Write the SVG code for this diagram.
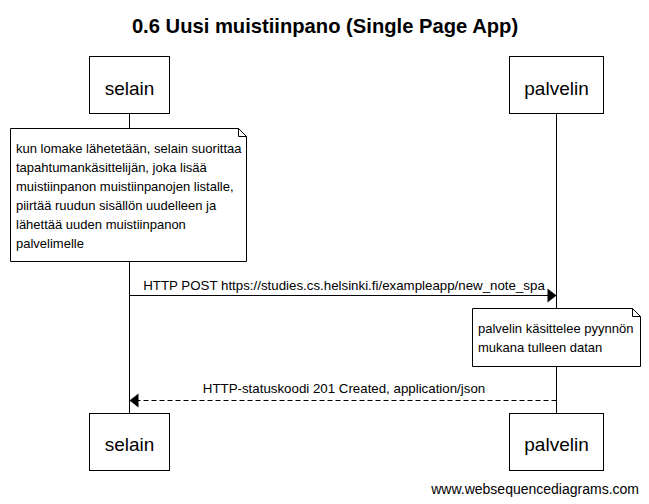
<svg xmlns="http://www.w3.org/2000/svg" width="649" height="504" viewBox="0 0 649 504">
<style>
  text { font-family: "Liberation Sans", Arial, sans-serif; fill: #000; }
  .title { font-size: 20.2px; font-weight: bold; text-anchor: middle; }
  .actor rect { fill: #fff; stroke: #000; stroke-width: 1; }
  .actor text { font-size: 19px; text-anchor: middle; }
  .note path { fill: #fff; stroke: #000; stroke-width: 1; }
  .note text { font-size: 13px; }
  .life { stroke: #000; stroke-width: 1; fill: none; }
  .msg { stroke: #000; stroke-width: 1; fill: none; }
  .dashed { stroke-dasharray: 5,3; }
  .lbl { font-size: 13.3px; text-anchor: middle; }
  .head { fill: #000; stroke: none; }
  .wm { font-size: 14px; text-anchor: end; }
</style>
<rect x="0" y="0" width="649" height="504" fill="#fff"/>
<text class="title" x="325" y="33">0.6 Uusi muistiinpano (Single Page App)</text>
<g id="lifelines">
  <line class="life" x1="129.5" y1="113.5" x2="129.5" y2="413.5"/>
  <line class="life" x1="556.5" y1="113.5" x2="556.5" y2="413.5"/>
</g>
<g id="note-selain" class="note">
  <path d="M10.5,128.5 H238.5 L246.5,136.5 V261.5 H10.5 Z M238.5,128.5 V136.5 H246.5"/>
  <text x="16" y="153">kun lomake lähetetään, selain suorittaa</text>
  <text x="16" y="172">tapahtumankäsittelijän, joka lisää</text>
  <text x="16" y="191">muistiinpanon muistiinpanojen listalle,</text>
  <text x="16" y="210">piirtää ruudun sisällön uudelleen ja</text>
  <text x="16" y="229">lähettää uuden muistiinpanon</text>
  <text x="16" y="248">palvelimelle</text>
</g>
<g id="note-palvelin" class="note">
  <path d="M472.5,308.5 H632.5 L640.5,316.5 V366.5 H472.5 Z M632.5,308.5 V316.5 H640.5"/>
  <text x="478" y="333">palvelin käsittelee pyynnön</text>
  <text x="478" y="352">mukana tulleen datan</text>
</g>
<g id="connectors">
  <g id="msg-post">
    <line class="msg" x1="129.5" y1="295.5" x2="548" y2="295.5"/>
    <polygon class="head" points="556.5,295.5 547.5,288.5 547.5,302.5"/>
    <text class="lbl" x="344" y="290">HTTP POST https://studies.cs.helsinki.fi/exampleapp/new_note_spa</text>
  </g>
  <g id="msg-response">
    <line class="msg dashed" x1="556.5" y1="400.5" x2="138" y2="400.5"/>
    <polygon class="head" points="129.5,400.5 138.5,393.5 138.5,407.5"/>
    <text class="lbl" x="344" y="393">HTTP-statuskoodi 201 Created, application/json</text>
  </g>
</g>
<g id="actor-selain-top" class="actor">
  <rect x="89.5" y="56.5" width="80" height="57"/>
  <text x="129.5" y="95">selain</text>
</g>
<g id="actor-palvelin-top" class="actor">
  <rect x="509.5" y="56.5" width="94" height="57"/>
  <text x="556.5" y="95">palvelin</text>
</g>
<g id="actor-selain-bottom" class="actor">
  <rect x="89.5" y="413.5" width="80" height="57"/>
  <text x="129.5" y="451">selain</text>
</g>
<g id="actor-palvelin-bottom" class="actor">
  <rect x="509.5" y="413.5" width="94" height="57"/>
  <text x="556.5" y="451">palvelin</text>
</g>
<text class="wm" x="639" y="494">www.websequencediagrams.com</text>
</svg>
